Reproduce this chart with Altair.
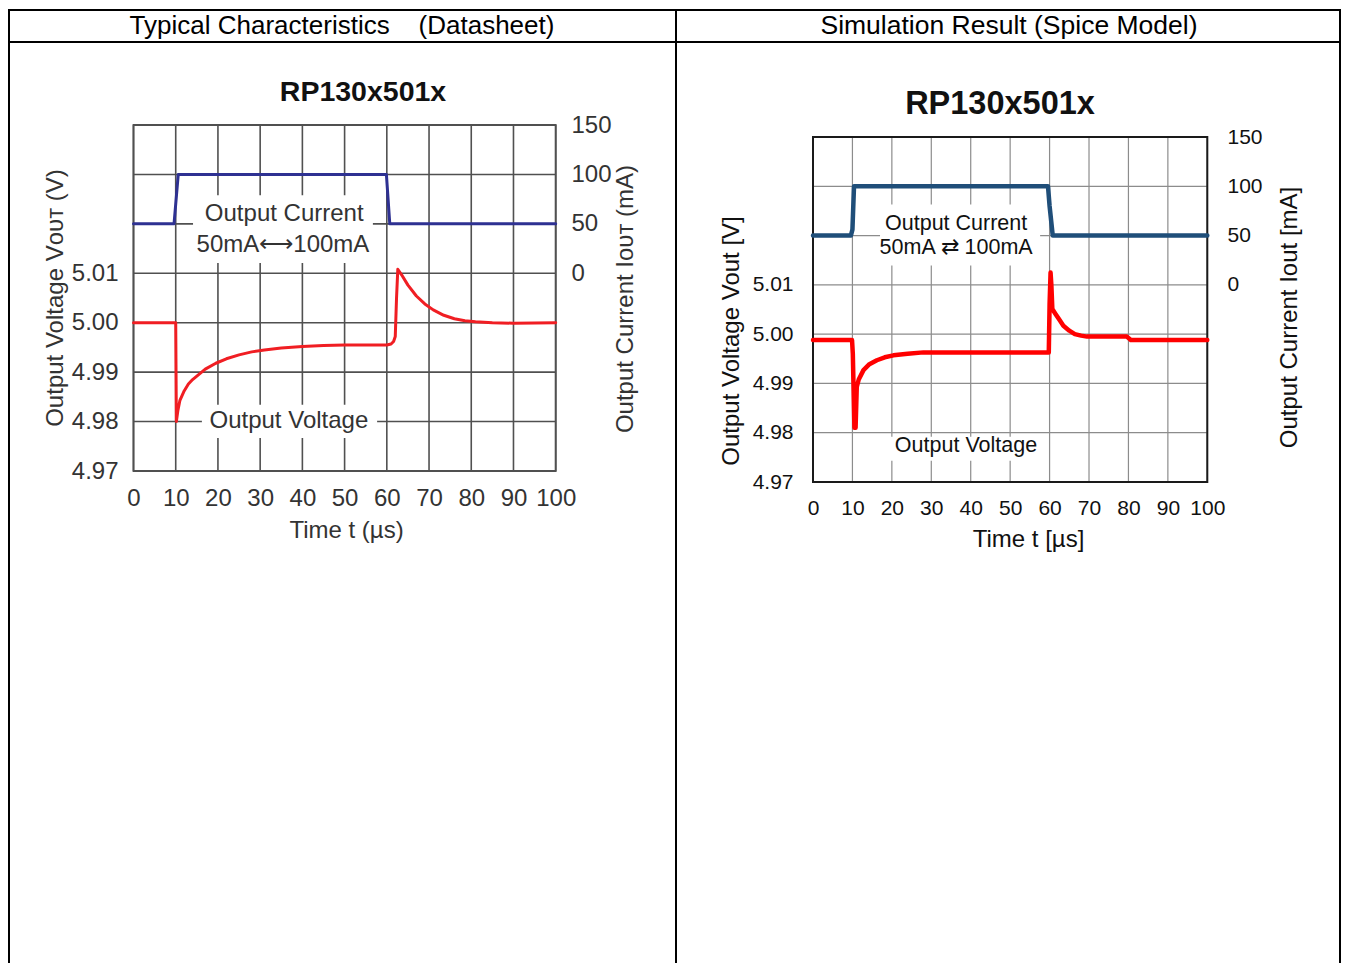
import altair as alt
import pandas as pd

W, H = 1333, 955
FONT = "Liberation Sans"

# ---------------- data ----------------
time_ticks = [0, 10, 20, 30, 40, 50, 60, 70, 80, 90, 100]
volt_grid = [4.97, 4.98, 4.99, 5.00, 5.01, 5.02, 5.03, 5.04]
volt_ticks = [4.97, 4.98, 4.99, 5.00, 5.01]
curr_ticks = [0, 50, 100, 150]
curr_domain = [-200, 150]

# Datasheet (left)
ds_cur_t = [0, 9.6, 10.6, 59.9, 60.7, 100]
ds_cur_ma = [50, 50, 100, 100, 50, 50]
ds_volt_t = [0, 10.0, 10.15, 10.5, 11.0, 12.0, 13.0, 14.0, 15.0, 17.0, 19.5, 22.0, 25.0, 28.0,
             31.0, 35.0, 40.0, 45.0, 50.0, 55.0, 60.0, 61.0, 61.6, 62.0, 62.3, 62.6, 63.5, 65.0,
             67.0, 69.0, 71.0, 73.5, 76.0, 78.5, 81.0, 85.0, 90.0, 100.0]
ds_volt_v = [5.0000, 5.0000, 4.9800, 4.9822, 4.9843, 4.9862, 4.9876, 4.9885, 4.9892, 4.9906,
             4.9918, 4.9927, 4.9935, 4.9941, 4.9945, 4.9949, 4.9952, 4.9954, 4.9955, 4.9955,
             4.9955, 4.9957, 4.9962, 4.9972, 5.0050, 5.0108, 5.0097, 5.0076, 5.0054, 5.0038,
             5.0026, 5.0015, 5.0008, 5.0004, 5.0002, 5.0000, 4.9999, 5.0000]

# Simulation (right)
sim_cur_t = [0, 9.6, 10.0, 10.4, 59.6, 60.0, 60.8, 100]
sim_cur_ma = [50, 50, 56, 100, 100, 80, 50, 50]
sim_volt_t = [0, 9.9, 10.1, 10.5, 10.8, 11.1, 11.6, 12.8, 14.3, 16.2, 18.2, 20.4, 24.0, 28.0,
              59.8, 60.0, 60.25, 60.45, 60.7, 61.5, 62.5, 63.5, 65.0, 66.4, 68.0, 69.5, 79.6,
              80.6, 100]
sim_volt_v = [4.9988, 4.9988, 4.9960, 4.9810, 4.9810, 4.9893, 4.9908, 4.9927, 4.9939, 4.9947,
              4.9953, 4.9957, 4.9960, 4.9963, 4.9963, 5.0060, 5.0125, 5.0100, 5.0051, 5.0041,
              5.0029, 5.0017, 5.0007, 5.0000, 4.9997, 4.9995, 4.9995, 4.9988, 4.9988]

# annotations (data coordinates)
ds_cur_note_t = [35.7, 35.4]
ds_cur_note_ma = [60.1, 28.7]
ds_cur_note_txt = ["Output Current", "50mA\u27f7100mA"]
ds_volt_note = (36.8, 4.9802, "Output Voltage")
ds_cur_box = (14.1, 56.7, 10.5, 79.0)
ds_volt_box = (16.2, 57.7, 4.9767, 4.9834)

sim_cur_note_t = [36.3, 36.3]
sim_cur_note_ma = [62.2, 37.8]
sim_cur_note_txt = ["Output Current", "50mA \u21c4 100mA"]
sim_volt_note = (38.8, 4.9774, "Output Voltage")
sim_cur_box = (17.0, 57.6, 19.6, 81.4)
sim_volt_box = (19.0, 58.8, 4.9743, 4.9792)

# ---------------- styling / layout ----------------
PANELS = {
    "ds": dict(
        xr=[125.5, 547.7], yr=[463, 117], W=W,
        grid="#505050", gridw=1.6, frame="#505050", framew=1.8,
        cur_color="#2e3192", volt_color="#f01e23", lw=3,
        font=24, tfont=24, lab_color="#333333", note_color="#333333", note_font=24,
        xlabpad=27, ylabpad=15.5, rlabpad=15.3,
        xtitle="Time t (\u00b5s)", xtitle_x=338, xtitle_dy=59,
        ltitle="Output Voltage V\u1d0f\u1d1c\u1d1b (V)", ltitle_dx=-78, ltitle_y=289.5,
        rtitle="Output Current I\u1d0f\u1d1c\u1d1b (mA)", rtitle_dx=70, rtitle_y=290.5,
        title_x=355, title_y=84, title_size=28.5,
    ),
    "sim": dict(
        xr=[805, 1199.3], yr=[474, 129], W=W,
        grid="#8c8c8c", gridw=1.2, frame="#1a1a1a", framew=2,
        cur_color="#1f4e79", volt_color="#ff0000", lw=4.5,
        font=21, tfont=24, lab_color="#111111", note_color="#111111", note_font=21.5,
        xlabpad=26, ylabpad=20, rlabpad=19.7,
        xtitle="Time t [\u00b5s]", xtitle_x=1020, xtitle_dy=57,
        ltitle="Output Voltage Vout [V]", ltitle_dx=-82, ltitle_y=332.5,
        rtitle="Output Current Iout [mA]", rtitle_dx=82, rtitle_y=309,
        title_x=992, title_y=96, title_size=32.5,
    ),
}


def tscale(p):
    return alt.Scale(domain=[0, 100], range=p["xr"], nice=False, zero=False)


def vscale(p):
    return alt.Scale(domain=[volt_grid[0], volt_grid[-1]], range=p["yr"], nice=False, zero=False)


def iscale(p):
    return alt.Scale(domain=curr_domain, range=p["yr"], nice=False, zero=False)


def panel_layers(p, cur_t, cur_ma, volt_t, volt_v, cur_note_t, cur_note_ma, cur_note_txt,
                 volt_note, cur_box, volt_box, title):
    x_axis = alt.Axis(
        values=time_ticks, orient="bottom", offset=p["yr"][0] - H, domain=False, ticks=False,
        grid=False, labelFont=FONT, labelFontSize=p["font"], labelColor=p["lab_color"],
        labelPadding=p["xlabpad"], labelBaseline="middle", labelFlush=False, labelOverlap=False,
        title=p["xtitle"], titleFont=FONT, titleFontSize=p["tfont"], titleFontWeight="normal",
        titleColor=p["lab_color"], titleX=p["xtitle_x"], titleY=p["xtitle_dy"], titleAngle=0,
        titleAlign="center", titleBaseline="middle",
    )
    vgrid = alt.Chart(pd.DataFrame({"t": time_ticks, "v0": volt_grid[0], "v1": volt_grid[-1]})).mark_rule(
        color=p["grid"], strokeWidth=p["gridw"]
    ).encode(
        x=alt.X("t:Q", scale=tscale(p), axis=x_axis),
        y=alt.Y("v0:Q", scale=vscale(p), axis=None),
        y2="v1:Q",
    )
    l_axis = alt.Axis(
        values=volt_ticks, orient="left", offset=-p["xr"][0], format=".2f", domain=False,
        ticks=False, grid=False, labelFont=FONT, labelFontSize=p["font"], labelColor=p["lab_color"],
        labelPadding=p["ylabpad"], labelOverlap=False, labelFlush=False,
        title=p["ltitle"], titleFont=FONT, titleFontSize=p["tfont"], titleFontWeight="normal",
        titleColor=p["lab_color"], titleX=p["ltitle_dx"], titleY=p["ltitle_y"], titleAngle=270,
        titleAlign="center", titleBaseline="middle",
    )
    hgrid = alt.Chart(pd.DataFrame({"v": volt_grid, "t0": 0, "t1": 100})).mark_rule(
        color=p["grid"], strokeWidth=p["gridw"]
    ).encode(
        y=alt.Y("v:Q", scale=vscale(p), axis=l_axis),
        x=alt.X("t0:Q", scale=tscale(p), axis=None),
        x2="t1:Q",
    )
    frame = alt.Chart(pd.DataFrame({"t0": [0], "t1": [100], "v0": [volt_grid[0]], "v1": [volt_grid[-1]]})).mark_rect(
        fillOpacity=0, stroke=p["frame"], strokeWidth=p["framew"]
    ).encode(
        x=alt.X("t0:Q", scale=tscale(p), axis=None), x2="t1:Q",
        y=alt.Y("v0:Q", scale=vscale(p), axis=None), y2="v1:Q",
    )
    cbox = alt.Chart(pd.DataFrame({"t0": [cur_box[0]], "t1": [cur_box[1]], "m0": [cur_box[2]], "m1": [cur_box[3]]})).mark_rect(
        fill="white"
    ).encode(
        x=alt.X("t0:Q", scale=tscale(p), axis=None), x2="t1:Q",
        y=alt.Y("m0:Q", scale=iscale(p), axis=None), y2="m1:Q",
    )
    vbox = alt.Chart(pd.DataFrame({"t0": [volt_box[0]], "t1": [volt_box[1]], "v0": [volt_box[2]], "v1": [volt_box[3]]})).mark_rect(
        fill="white"
    ).encode(
        x=alt.X("t0:Q", scale=tscale(p), axis=None), x2="t1:Q",
        y=alt.Y("v0:Q", scale=vscale(p), axis=None), y2="v1:Q",
    )
    r_axis = alt.Axis(
        values=curr_ticks, orient="right", offset=p["xr"][1] - p["W"], domain=False, ticks=False,
        grid=False, labelFont=FONT, labelFontSize=p["font"], labelColor=p["lab_color"],
        labelPadding=p["rlabpad"], labelOverlap=False, labelFlush=False,
        title=p["rtitle"], titleFont=FONT, titleFontSize=p["tfont"], titleFontWeight="normal",
        titleColor=p["lab_color"], titleX=p["rtitle_dx"], titleY=p["rtitle_y"], titleAngle=270,
        titleAlign="center", titleBaseline="middle",
    )
    cur = alt.Chart(pd.DataFrame({"t": cur_t, "ma": cur_ma, "i": range(len(cur_t))})).mark_line(
        color=p["cur_color"], strokeWidth=p["lw"], strokeJoin="round", strokeCap="round"
    ).encode(
        x=alt.X("t:Q", scale=tscale(p), axis=None),
        y=alt.Y("ma:Q", scale=iscale(p), axis=r_axis),
        order="i:Q",
    )
    volt = alt.Chart(pd.DataFrame({"t": volt_t, "v": volt_v, "i": range(len(volt_t))})).mark_line(
        color=p["volt_color"], strokeWidth=p["lw"], strokeJoin="round", strokeCap="round"
    ).encode(
        x=alt.X("t:Q", scale=tscale(p), axis=None),
        y=alt.Y("v:Q", scale=vscale(p), axis=None),
        order="i:Q",
    )
    ctext = alt.Chart(pd.DataFrame({"t": cur_note_t, "ma": cur_note_ma, "txt": cur_note_txt})).mark_text(
        font=FONT, fontSize=p["note_font"], color=p["note_color"], align="center", baseline="middle"
    ).encode(
        x=alt.X("t:Q", scale=tscale(p), axis=None),
        y=alt.Y("ma:Q", scale=iscale(p), axis=None),
        text="txt:N",
    )
    vtext = alt.Chart(pd.DataFrame({"t": [volt_note[0]], "v": [volt_note[1]], "txt": [volt_note[2]]})).mark_text(
        font=FONT, fontSize=p["note_font"], color=p["note_color"], align="center", baseline="middle"
    ).encode(
        x=alt.X("t:Q", scale=tscale(p), axis=None),
        y=alt.Y("v:Q", scale=vscale(p), axis=None),
        text="txt:N",
    )
    ttl = alt.Chart(pd.DataFrame({"txt": [title]})).mark_text(
        font=FONT, fontSize=p["title_size"], fontWeight="bold", color="#111111",
        align="center", baseline="middle"
    ).encode(x=alt.value(p["title_x"]), y=alt.value(p["title_y"]), text="txt:N")
    return [vgrid, hgrid, cbox, vbox, frame, cur, volt, ctext, vtext, ttl]


chart_title = "RP130x501x"
headers = ["Typical Characteristics\u00a0\u00a0\u00a0\u00a0(Datasheet)", "Simulation Result (Spice Model)"]

layers = []
layers += panel_layers(PANELS["ds"], ds_cur_t, ds_cur_ma, ds_volt_t, ds_volt_v,
                       ds_cur_note_t, ds_cur_note_ma, ds_cur_note_txt, ds_volt_note,
                       ds_cur_box, ds_volt_box, chart_title)
layers += panel_layers(PANELS["sim"], sim_cur_t, sim_cur_ma, sim_volt_t, sim_volt_v,
                       sim_cur_note_t, sim_cur_note_ma, sim_cur_note_txt, sim_volt_note,
                       sim_cur_box, sim_volt_box, chart_title)

# table frame
dummy = pd.DataFrame({"a": [0]})
hlines = [(2, 0, 1333), (34, 0, 1333)]
vlines = [1, 668, 1332]
for y, x0, x1 in hlines:
    layers.append(alt.Chart(dummy).mark_rule(color="black", strokeWidth=2).encode(
        x=alt.value(x0), x2=alt.value(x1), y=alt.value(y)))
for x in vlines:
    layers.append(alt.Chart(dummy).mark_rule(color="black", strokeWidth=2).encode(
        x=alt.value(x), y=alt.value(1), y2=alt.value(H)))

hdr = alt.Chart(pd.DataFrame({"txt": [headers[0]]})).mark_text(
    font=FONT, fontSize=26, color="black", align="center", baseline="middle"
).encode(x=alt.value(334), y=alt.value(18), text="txt:N")
hdr2 = alt.Chart(pd.DataFrame({"txt": [headers[1]]})).mark_text(
    font=FONT, fontSize=26.5, color="black", align="center", baseline="middle"
).encode(x=alt.value(1001), y=alt.value(18), text="txt:N")
layers += [hdr, hdr2]

chart = alt.layer(*layers).resolve_scale(
    x="independent", y="independent"
).resolve_axis(
    x="independent", y="independent"
).properties(
    width=W, height=H, autosize=alt.AutoSizeParams(type="none"), padding=0
).configure_view(strokeWidth=0)

chart.save("out.html", embed_options={"renderer": "svg", "actions": False})
